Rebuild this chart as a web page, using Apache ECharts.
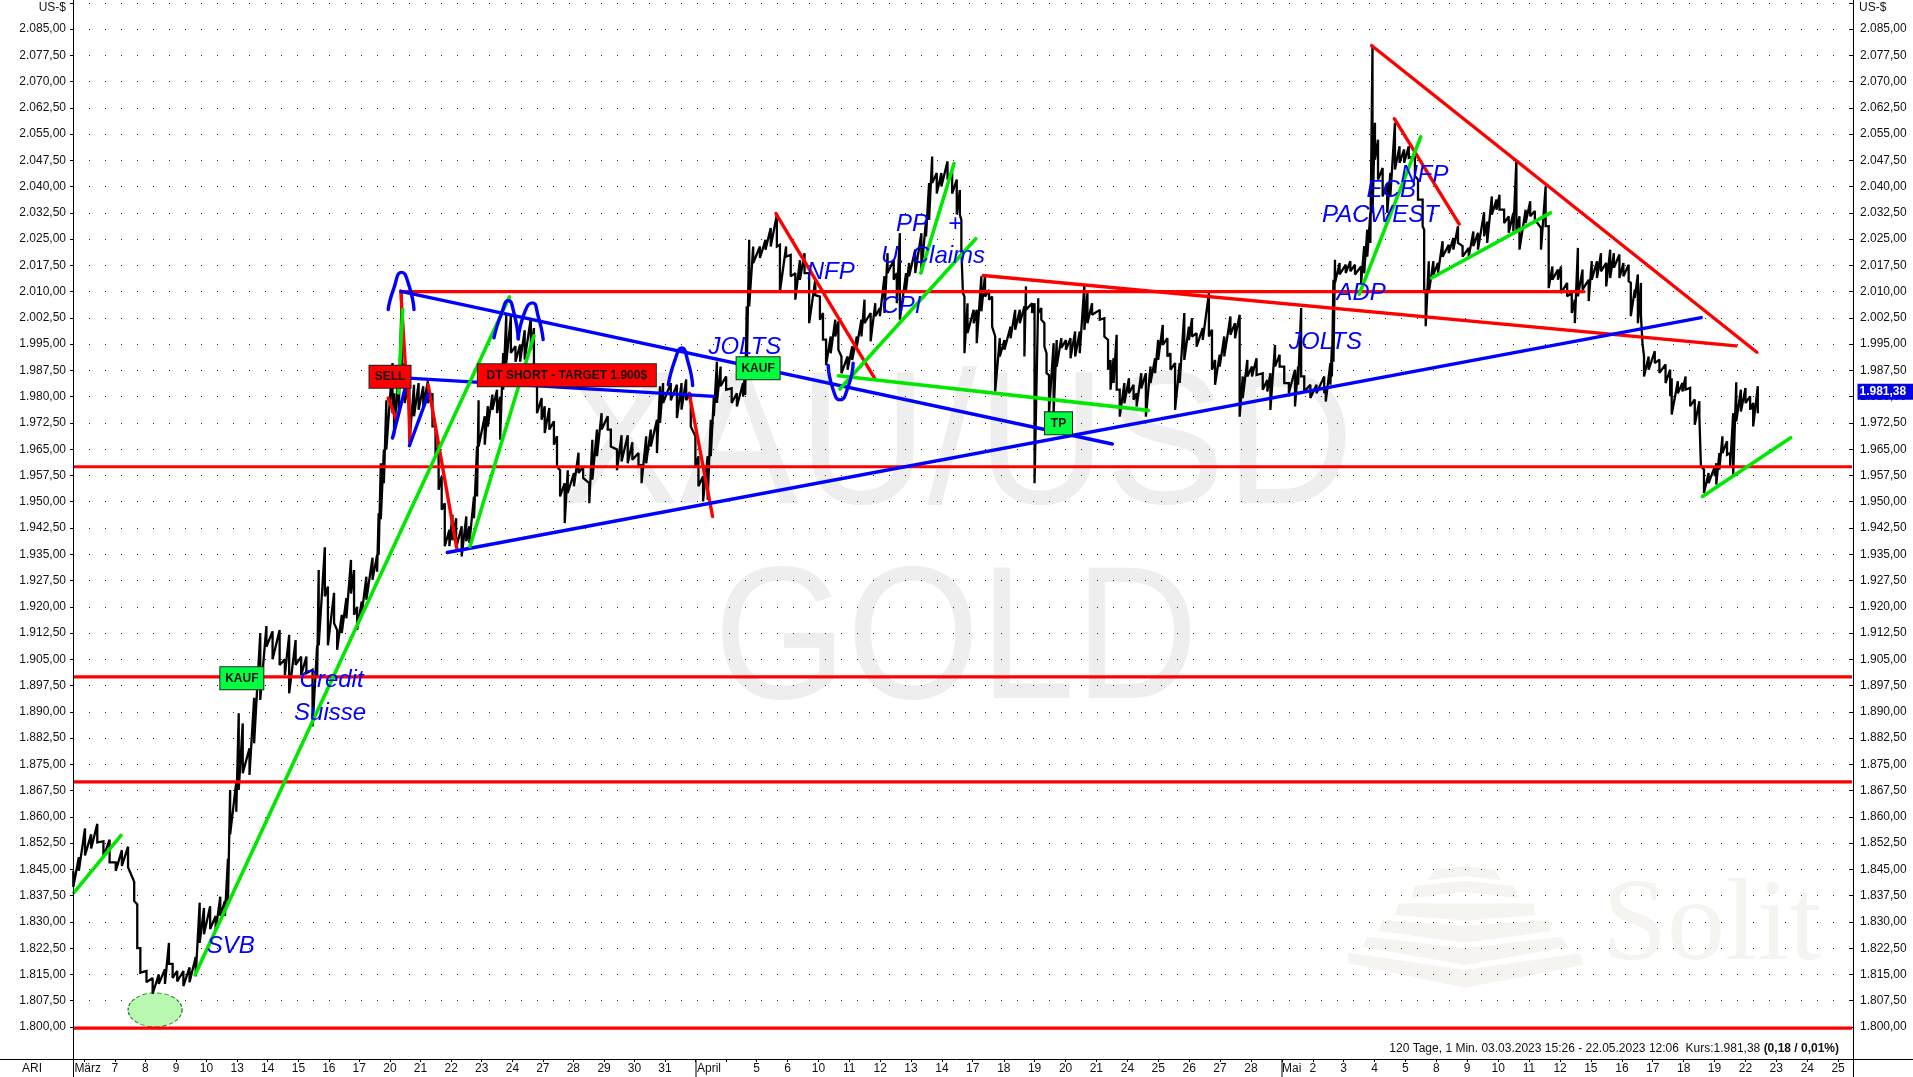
<!DOCTYPE html>
<html><head><meta charset="utf-8">
<style>html,body{margin:0;padding:0;background:#fff}#c{width:1913px;height:1077px}</style>
<script src="https://cdn.jsdelivr.net/npm/echarts@6/dist/echarts.min.js"></script>
</head><body><div id="c"></div>
<script>
// sessions counted from 6 March (index 0); each price sample has a high and a low
const times = [-0.38,-0.2,0,0.2,0.4,0.6,0.8,1,1.2,1.4,1.6,1.7,1.8,2,2.2,2.4,2.6,2.73,2.85,3,3.2,3.4,3.6,3.73,3.87,4.07,4.25,4.4,4.55,4.65,4.72,4.92,5,5.13,5.35,5.5,5.7,5.9,6.1,6.33,6.5,6.64,6.85,7.03,7.2,7.4,7.55,7.6,7.8,7.9,8.1,8.2,8.35,8.5,8.65,8.75,8.85,9,9.15,9.35,9.5,9.55,9.62,9.72,9.8,10,10.05,10.2,10.3,10.4,10.55,10.7,10.85,11,11.15,11.3,11.4,11.5,11.6,11.7,11.85,11.95,12.07,12.25,12.4,12.5,12.65,12.75,12.8,13,13.1,13.25,13.4,13.5,13.6,13.7,13.85,14,14.15,14.3,14.5,14.6,14.7,14.85,14.95,15.1,15.25,15.35,15.45,15.6,15.7,15.9,16.05,16.2,16.4,16.5,16.65,16.8,17,17.1,17.3,17.45,17.65,17.8,18,18.1,18.25,18.4,18.6,18.7,18.8,19.05,19.25,19.4,19.55,19.7,19.85,19.95,20.1,20.25,20.35,20.45,20.55,20.67,20.85,21.03,21.2,21.4,21.47,21.52,21.6,21.73,21.95,22.13,22.3,22.5,22.6,22.8,22.95,23.1,23.25,23.4,23.55,23.75,23.9,24,24.1,24.25,24.4,24.5,24.6,24.8,24.95,25.1,25.25,25.35,25.55,25.7,25.85,26,26.1,26.3,26.4,26.5,26.7,26.8,27,27.2,27.35,27.45,27.55,27.7,27.85,28.05,28.2,28.35,28.45,28.5,28.55,28.6,28.7,28.9,29,29.15,29.27,29.4,29.5,29.6,29.75,29.9,30.1,30.25,30.4,30.55,30.6,30.8,30.88,31,31.1,31.2,31.27,31.35,31.5,31.6,31.75,31.9,32.05,32.2,32.35,32.5,32.6,32.75,33,33.15,33.27,33.35,33.45,33.55,33.65,33.8,33.95,34.1,34.2,34.35,34.5,34.65,34.8,34.9,35.05,35.2,35.3,35.45,35.6,35.75,35.9,36,36.15,36.35,36.55,36.65,36.75,36.9,37.05,37.25,37.4,37.55,37.65,37.8,37.95,38.1,38.3,38.45,38.55,38.7,38.85,39,39.15,39.35,39.45,39.55,39.65,39.85,40.05,40.3,40.35,40.5,40.55,40.6,40.65,40.8,41,41.15,41.3,41.5,41.6,41.7,41.8,41.87,41.95,42.05,42.2,42.35,42.45,42.6,42.75,42.9,43.05,43.25,43.35,43.5,43.55,43.6,43.7,43.85,44,44.15,44.35,44.5,44.65,44.8,45,45.15,45.3,45.5,45.6,45.75,45.9,46,46.15,46.3,46.45,46.55,46.65,46.85,47,47.15,47.35,47.5,47.6,47.72,47.9,48,48.2,48.35,48.45,48.55,48.7,48.9,49,49.17,49.3,49.47,49.6,49.72,49.9,50.03,50.2,50.27,50.4,50.5,50.6,50.65,50.7,50.85,51.05,51.2,51.4,51.55,51.6,51.8,51.95,52.05,52.2,52.35,52.5,52.55,52.65,52.8,53,53.05,53.15,53.25,53.4,53.5,53.6,53.7,53.85,54,54.15,54.25,54.4];
const highs = [1844.6,1848.5,1856.7,1855,1858,1853,1853.5,1847,1850.5,1851.5,1841.5,1835,1822.5,1816,1814,1815,1816.5,1824,1818,1816,1816,1817,1820,1835.5,1834,1834.5,1831.7,1837.2,1836,1848,1867.7,1870,1889.6,1886.7,1879.6,1894,1912.5,1914.5,1913,1913.4,1905,1912,1910.5,1905.8,1905.8,1902,1909,1930.5,1937,1925.8,1924,1913.4,1917.7,1922.5,1933.4,1930.5,1920,1921.5,1928.6,1934,1934.8,1946.7,1961,1964.9,1979,1989.6,1981,1988.7,2010,1989.6,1985.8,1983.4,1983.9,1983,1984.4,1981,1971.5,1965.8,1957.3,1949.6,1942,1946.3,1945.3,1943,1945.8,1943,1951.5,1965.8,1979,1974.4,1977.3,1980.6,1982,1980,1992.5,2003.4,2003,1994.4,1994.9,1999,2002.5,1999.6,1983,1979.6,1977.3,1976.8,1973,1968.7,1959,1955.3,1959,1958.2,1964,1960,1955.3,1967.7,1970.6,1975.3,1974.4,1970.6,1964.9,1969,1969,1967,1963.9,1960.6,1968.7,1970.6,1973.4,1983,1983.9,1983.9,1983.4,1983.9,1984.9,1981,1968.7,1963,1957.3,1963,1973.4,1980,1990,1988.6,1985.8,1982.4,1981,1983.9,1987.7,2005.8,2024.8,2022.9,2022.9,2024.8,2028.2,2032,2023.4,2022.9,2020.5,2015.3,2019,2021,2015.3,2013.4,2008.6,2003.9,1996.3,1997.2,2002,2001.5,1991.5,1991.5,1994.4,1997.2,2002,2007.7,2003.9,2006.7,2005.3,2014.4,2021,2019,2015.3,2026.7,2015.3,2018.2,2022,2026.7,2030.5,2041,2048.6,2043.9,2043.9,2047.2,2044.4,2042,2039,2030.5,2022,2008.6,2006.7,2004.8,2004.8,2014.4,2014.8,2010.5,2008.6,1997.2,1996.7,1996.2,2000,2004.8,2004.8,2005.8,2011.5,2006.7,2006.7,2008.1,2005.3,2001,1992.4,1986.2,1995.3,1996.2,1996.7,1996.2,1996.7,1998.6,1998.6,2012,2009.6,2006.7,2004.8,2002.4,1996.2,1990.5,1991,1997.7,1982,1983.9,1985.3,1983.4,1981,1986.7,1986.7,1988.6,1991,1996.2,2000.5,1996.7,1992.4,1989.6,1989.6,2003.9,2000,2002.4,1998.1,1999.6,2009.6,1999.1,1990.5,1992,1997.2,2002.9,2001,2003.4,1985.8,1990.5,1988.6,1991,1986.7,1984.8,1986.7,1994.8,1992,1988.6,1983.9,1987.7,1988.6,2005.3,1985.8,1983.4,1983.4,1985.8,1982.9,1989.6,1994.3,2013.4,2019.1,2018.2,2017.7,2018.7,2017.7,2017.2,2023,2027.7,2032.5,2080,2058.2,2053.4,2045.3,2041,2043.9,2058.2,2051.5,2050.6,2051.5,2048.7,2042,2036.3,2027.7,2010.6,2018.7,2018.7,2018.2,2024.4,2023.4,2025.3,2028.7,2023,2022.5,2027.2,2026.8,2032.7,2030,2037.2,2036.3,2037.7,2033.4,2031.5,2032.5,2047.7,2031.5,2033.4,2035.8,2033,2028.2,2040,2028.7,2017.2,2016.3,2017.2,2012.5,2009.6,2007.7,2022.5,2016.3,2013.4,2018.7,2018.7,2021,2018.2,2022,2021,2020.6,2018.2,2017.7,2012.5,2010.6,2014.9,2012.5,2003,1991.5,1991.5,1993,1990.6,1989.2,1987.7,1985.3,1984.4,1983.9,1985.8,1982.5,1979.2,1978.7,1974.4,1959.2,1958.2,1960,1961,1963.9,1968.7,1967.3,1963.9,1975.3,1984.1,1982,1982.5,1980.1,1978.2,1983];
const lows = [1840,1844.6,1849,1851,1852.7,1848.6,1847,1844.6,1846,1845.6,1836,1822.5,1815.5,1812.8,1809.5,1812.3,1812.3,1818,1814,1813,1811.7,1812.8,1814.5,1824,1826.5,1828,1827.5,1831.7,1831.7,1836,1855,1861.5,1867.7,1872.5,1872,1881,1893.4,1908.6,1905,1903.4,1900.5,1895.3,1903.4,1900.5,1901,1885.8,1900,1909,1923,1909,1915.3,1907.7,1912.5,1916.7,1923.8,1917.7,1913.4,1918,1922,1927.7,1930,1934.8,1945,1955.3,1964.9,1975.3,1968.7,1974.4,1987.7,1978.2,1966.8,1974.4,1976.3,1977.3,1978.2,1971.5,1963.4,1953.4,1947.7,1937.3,1937.3,1939,1936.8,1934.4,1938.7,1938.2,1945.3,1951.5,1965.8,1966.3,1971.5,1976.3,1975.3,1967.7,1982,1989.6,1992.5,1990,1990,1990.6,1993.4,1988.7,1975.3,1973.4,1969.6,1970.6,1966.3,1960,1951.5,1943.9,1952.5,1954.4,1958.2,1956.8,1949.6,1956.3,1963,1970.6,1970.6,1965.8,1959,1961.5,1961,1962,1960,1955.3,1961,1965.8,1963.9,1972.5,1978.2,1979,1973.9,1976.3,1979,1971.5,1960,1954.4,1950.1,1950.6,1963,1974.4,1978.2,1983,1982,1978.2,1977.2,1980,1980.5,1987.7,2005.8,2018.2,2019.6,2022,2022.9,2022.9,2010,2020,2014.4,2007.7,2013.4,2015.3,2001,2009,2002,1996.3,1989,1992.4,1997.2,1993.4,1986.7,1987.7,1990.5,1994.4,1997.2,2001,1995.8,2003,2003,2003.9,2015.3,2013.4,2006.7,2002,2010.5,2014.4,2015.3,2015.3,2025.8,2030.5,2041,2038,2040,2042,2038,2032,2032,2022,2009.6,1992.4,1998.2,2001,1995.3,2004.4,2008.6,2007.7,2000,1981.5,1991.5,1993.4,1996.7,1999.1,2001,1991.5,2004.8,2003.9,1955.3,2003.9,2002,1994.3,1986.7,1975.3,1975.3,1988.6,1993.9,1993.4,1991,1991.5,1992.4,1999.1,2001,2003.4,2002,1997.2,1987.7,1982,1983.9,1982,1974.3,1978.1,1981,1979.1,1977.2,1982.4,1974.3,1983.9,1986.7,1990.5,1994.8,1991.5,1987.7,1976.2,1983.9,1990.5,1996.2,1997.2,1994.3,1996.2,1997.2,1987.7,1983.4,1988.6,1991.5,1997.7,1996.7,1974.3,1979.6,1985.8,1985.8,1986.2,1982,1981.5,1976.2,1988.6,1988.6,1983.9,1981,1977.2,1983.4,1985.8,1981.5,1979.6,1981,1981,1978.6,1983.4,1985.8,1990,2012.5,2014.9,2015.3,2015.8,2014.9,2012.5,2015.3,2020,2023.9,2032.5,2047.7,2042,2037.2,2032.5,2037.2,2044.9,2046.8,2046.8,2048.2,2043,2036.3,2028.7,2009.6,2000.1,2009.6,2014.9,2015.3,2020,2021,2022,2023.9,2020,2020,2023,2022,2025.8,2023.9,2032,2033.4,2033.4,2029.6,2026.8,2027.2,2027.7,2022,2029.6,2031.5,2030.6,2022,2028.7,2011,2013.4,2013.4,2009.6,2008.7,2003.9,2001,2008.7,2010.6,2007.3,2013.4,2013.9,2015.8,2011.5,2013.9,2016.8,2013.9,2014.4,2013,2003,2008.2,2001,2003,1995.3,1985.8,1987.7,1989.6,1986.8,1983.9,1980.1,1974.9,1981,1981.5,1982,1977.3,1972,1974.4,1960.1,1952.5,1955.3,1957.3,1954.9,1959.2,1963.9,1963.4,1960,1957.7,1973,1975.8,1978.2,1976.3,1971.5,1975.3];

const yTicks = [2085,2077.5,2070,2062.5,2055,2047.5,2040,2032.5,2025,2017.5,2010,2002.5,1995,1987.5,1980,1972.5,1965,1957.5,1950,1942.5,1935,1927.5,1920,1912.5,1905,1897.5,1890,1882.5,1875,1867.5,1860,1852.5,1845,1837.5,1830,1822.5,1815,1807.5,1800];
const xTickPos = [-0.02,0.97,1.96,2.96,3.95,4.95,5.94,6.94,7.93,8.92,9.92,10.91,11.91,12.9,13.9,14.89,15.88,16.88,17.87,18.86,19.86,20.87,21.84,22.85,23.85,24.85,25.86,26.86,27.87,28.87,29.88,30.88,31.89,32.89,33.9,34.9,35.91,36.91,37.92,38.92,39.93,40.93,41.94,42.94,43.95,44.95,45.96,46.96,47.97,48.97,49.98,50.98,51.99,52.99,54,55,56.01,57.01];
const xTickText = ['März','7','8','9','10','13','14','15','16','17','20','21','22','23','24','27','28','29','30','31','April','','5','6','10','11','12','13','14','17','18','19','20','21','24','25','26','27','28','Mai','2','3','4','5','8','9','10','11','12','15','16','17','18','19','22','23','24','25'];

const supportLevels = [2010,1960,1900,1870,1799.7];
const redTrends = [[[41.84,2080.3],[54.37,1992.7]],[[42.58,2059.4],[44.69,2029.3]],[[29.21,2014.6],[53.69,1994.5]],[[22.47,2032.3],[25.68,1985.2]],[[10.27,2010.1],[10.46,1983]],[[9.86,1979.6],[10.13,1973.4]],[[10.51,1983],[10.57,1966.9]],[[11.16,1983.4],[12.09,1936.8]],[[19.65,1981],[20.41,1945.8]],[[10.34,2010],[48.75,2010]]];
const greenTrends = [[[-0.36,1838.4],[1.17,1854.7]],[[3.58,1814.9],[13.8,2008.5]],[[12.52,1937.2],[14.6,1997.4]],[[10.19,1981.1],[10.33,2004.9]],[[24.5,1986],[34.58,1976.1]],[[24.55,1982.2],[28.97,2025.1]],[[27.18,2015.3],[28.26,2046.6]],[[41.44,2009.3],[43.44,2054.2]],[[43.79,2013.9],[47.66,2032.5]],[[52.6,1951.5],[55.47,1968.3]]];
const blueTrends = [[[11.78,1935.5],[52.56,2002.6]],[[10.27,2010.1],[33.41,1966.5]],[[10.51,1985.3],[20.45,1980.1]],[[10,1968.2],[10.51,1985.8]],[[10.55,1966],[11.16,1980.6]]];
const blueArcs = [[[9.86,2004.9],[10.03,2010.6],[10.3,2015.5],[10.51,2012.5],[10.7,2004.9]],[[13.3,1996.8],[13.55,2003.9],[13.77,2007.5],[13.95,2003.9],[14.09,1996.5]],[[14.09,1996.5],[14.31,2004.4],[14.55,2006.8],[14.74,2002.9],[14.9,1996.3]],[[18.97,1983.4],[19.19,1990.6],[19.4,1993.9],[19.62,1989.6],[19.76,1983.2]],[[24.17,1988.9],[24.33,1982],[24.55,1979.1],[24.82,1982.9],[24.98,1989.6]]];
const newsNotes = [['SVB',4.74,1822.9],['Credit',8.02,1898.9],['Suisse',7.97,1889.7],['JOLTS',21.46,1994.1],['NFP',24.25,2015.5],['PP   +',27.45,2029.1],['U. Claims',27.58,2020],['CPI',26.55,2005.7],['PACWEST',42.13,2031.7],['ECB',42.48,2038.9],['NFP',43.56,2043.2],['ADP',41.5,2009.6],['JOLTS',40.34,1995.4]];
const signalBoxes = [['SELL',9.92,1985.7,'#ff0000',41,22],['DT SHORT - TARGET 1.900$',15.67,1986.1,'#ff0000',178,22],['KAUF',21.89,1988.1,'#00ff40',43,22],['KAUF',5.1,1899.6,'#00ff40',43,22],['TP',31.66,1972.4,'#00ff40',27,22]];
const lowMarker = [2.28,1804.9];
const lastPrice = 1981.38;

const xMin = -0.39, xMax = 57.496, yMin = 1790.86, yMax = 2093.29;
const FONT = '"Liberation Sans", Arial, sans-serif';
const deNum = v => v.toLocaleString('de-DE',{minimumFractionDigits:2,maximumFractionDigits:2});
const pricePath = [];
times.forEach((t,k)=>{ pricePath.push([t,highs[k]]); pricePath.push([t,lows[k]]); });

const lineS = (data,color,width,extra) => Object.assign({type:'line',data,showSymbol:false,symbol:'none',silent:true,animation:false,z:5,clip:true,lineStyle:{color,width,cap:'round'}},extra||{});
const series = [];
series.push(lineS(pricePath,'#000',2.3,{z:3,lineStyle:{color:'#000',width:2.3,join:'miter',miterLimit:2}}));
supportLevels.slice(1).forEach(v=>series.push(lineS([[xMin,v],[xMax-0.03,v]],'#ff0000',3.2,{lineStyle:{color:'#ff0000',width:3.2,cap:'butt'}})));
redTrends.forEach(d=>series.push(lineS(d,'#ff0000',3.4)));
blueTrends.forEach(d=>series.push(lineS(d,'#0000ff',3.4)));
greenTrends.forEach(d=>series.push(lineS(d,'#00e800',3.6)));
blueArcs.forEach(d=>series.push(lineS(d,'#0000ff',3.4,{smooth:0.6})));
series.push({type:'scatter',silent:true,animation:false,z:2,data:[lowMarker],symbol:'circle',symbolSize:[54,34],itemStyle:{opacity:1,color:'#b8f8b0',borderColor:'#1f7a1f',borderWidth:1,borderType:'dashed'}});
series.push({type:'scatter',silent:true,animation:false,z:7,symbolSize:1,itemStyle:{color:'transparent'},
  data:newsNotes.map(n=>({value:[n[1],n[2]],label:{show:true,opacity:1,position:'inside',formatter:n[0],color:'#0000ff',fontFamily:FONT,fontStyle:'italic',fontSize:24}}))});
series.push({type:'scatter',silent:true,animation:false,z:9,symbolSize:1,itemStyle:{color:'transparent'},
  data:signalBoxes.map(b=>({value:[b[1],b[2]],label:{show:true,opacity:1,position:'inside',formatter:b[0],color:'#111',fontFamily:FONT,fontWeight:'bold',fontSize:12,backgroundColor:b[3],borderColor:'#222',borderWidth:1,width:b[4],height:b[5],lineHeight:b[5],align:'center',verticalAlign:'middle'}}))});
series.push({type:'scatter',silent:true,animation:false,z:9,clip:false,symbolSize:1,itemStyle:{color:'transparent'},
  data:[{value:[xMax,lastPrice],label:{show:true,opacity:1,position:'right',distance:4,formatter:deNum(lastPrice),color:'#fff',fontFamily:FONT,fontWeight:'bold',fontSize:12,backgroundColor:'#0000e6',width:56,height:16,lineHeight:16,align:'left',padding:[0,0,0,2]}}]});

const P = (a,b)=>[1350+a*0.359,800+b/3];
const logoBands = [
 [[218,240],[235,210],[320,198],[405,210],[420,240],[320,228]],
 [[172,295],[180,258],[320,242],[455,258],[468,295],[320,275]],
 [[125,345],[135,310],[510,310],[515,345],[320,362]],
 [[80,393],[90,360],[320,378],[550,360],[560,393],[320,428]],
 [[35,440],[48,410],[320,445],[590,410],[605,440],[320,495]],
 [[-5,490],[-5,458],[320,510],[640,460],[650,495],[320,563]]];
const gText = (text,x,y,o)=>({type:'text',x,y,z:1,silent:true,style:Object.assign({text,fill:'#111',font:'12px '+FONT,textAlign:'right',textVerticalAlign:'middle'},o||{})});
const vLine = (x,y1,y2,w)=>({type:'line',z:6,silent:true,shape:{x1:x,y1,x2:x,y2},style:{stroke:'#000',lineWidth:w||1}});
const graphic = [
 {type:'text',x:957,y:451,z:0,silent:true,scaleX:0.94,style:{text:'XAU/USD',fill:'#eeeeee',font:'190px '+FONT,textAlign:'center',textVerticalAlign:'middle'}},
 {type:'text',x:956,y:646,z:0,silent:true,scaleX:0.9,style:{text:'GOLD',fill:'#eeeeee',font:'190px '+FONT,textAlign:'center',textVerticalAlign:'middle'}},
 ...logoBands.map(b=>({type:'polygon',z:0,silent:true,shape:{points:b.map(p=>P(p[0],p[1]))},style:{fill:'#f6f4f0'}})),
 gText('Solit',1712,929,{fill:'#f6f4f0',font:'116px "Liberation Serif", serif',textAlign:'center'}),
 gText('US-$',66,7.5),
 gText('US-$',1859,7.5,{textAlign:'left'}),
 gText('ARI',32,1069,{textAlign:'center'}),
 {type:'text',x:1839,y:1049,z:6,silent:true,style:{text:'{a|120 Tage, 1 Min. 03.03.2023 15:26 - 22.05.2023 12:06  Kurs:1.981,38 }{b|(0,18 / 0,01%)}',textAlign:'right',textVerticalAlign:'middle',rich:{a:{font:'12px '+FONT,fill:'#111'},b:{font:'bold 12px '+FONT,fill:'#111'}}}},
 {type:'line',z:6,silent:true,shape:{x1:0,y1:1059.5,x2:1913,y2:1059.5},style:{stroke:'#000',lineWidth:1}},
 vLine(73.5,0,1077,1), vLine(1853.5,0,1077,1),
 vLine(696,1059,1077,1), vLine(1282,1059,1077,1)
];

const yAxisBase = (pos)=>({type:'value',position:pos,min:yMin,max:yMax,
  axisLine:{show:true,onZero:false,lineStyle:{color:'#000'}},
  axisTick:{show:true,length:3,inside:pos==='right',lineStyle:{color:'#000'},customValues:yTicks.concat([2092.5])},
  axisLabel:{show:true,customValues:yTicks,formatter:v=>deNum(v),color:'#111',fontFamily:FONT,fontSize:12,margin:7,hideOverlap:false},
  splitLine:{show:false}});
const yLeft = yAxisBase('left');
yLeft.splitLine = {show:true,customValues:yTicks.concat([2092.5]),lineStyle:{color:'#000',width:1,type:[1,15],opacity:.85}};

const chart = echarts.init(document.getElementById('c'),null,{renderer:'canvas'});
chart.setOption({
  animation:false,backgroundColor:'#fff',
  grid:{left:73,right:60,top:0,bottom:18,containLabel:false},
  xAxis:{type:'value',min:xMin,max:xMax,splitLine:{show:false},
    axisLine:{show:false,onZero:false},
    axisTick:{show:true,length:3,lineStyle:{color:'#000'},customValues:xTickPos},
    axisLabel:{show:true,customValues:xTickPos.filter((p,k)=>xTickText[k]!==''),hideOverlap:false,margin:4,color:'#111',fontFamily:FONT,fontSize:12,
      formatter:v=>{const t=xTickText[xTickPos.indexOf(v)]; if(t==='April'||t==='Mai') return '\u00a0'.repeat(t==='April'?8:6)+t; if(t==='März') return '\u00a0\u00a0'+t; return t;}}},
  yAxis:[yLeft,yAxisBase('right')],
  graphic,series
});
</script></body></html>
